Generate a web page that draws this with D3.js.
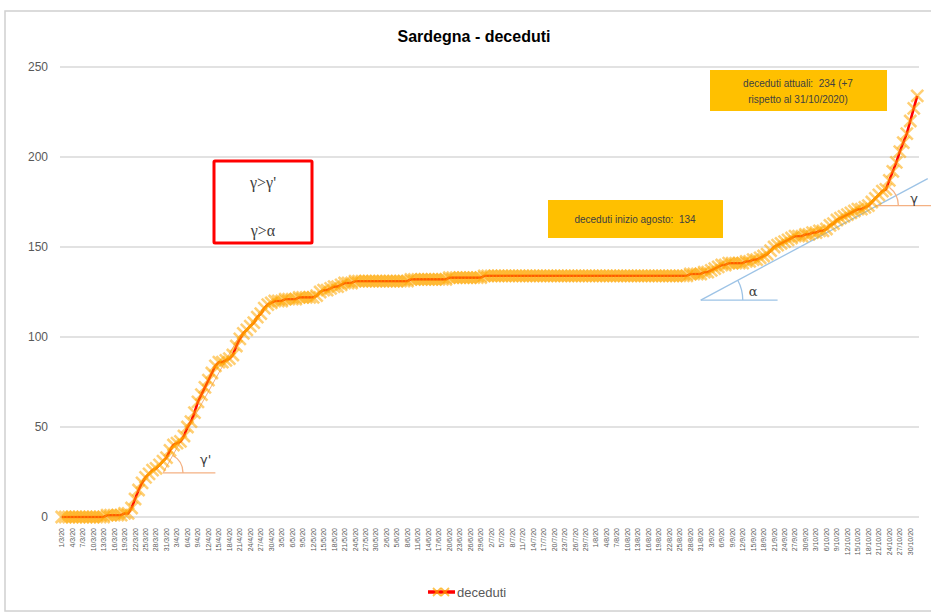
<!DOCTYPE html>
<html><head><meta charset="utf-8">
<script src="https://cdn.jsdelivr.net/npm/d3@7"></script>
<style>body{margin:0;background:#fff}svg{display:block}</style>
</head><body>
<svg id="c" width="931" height="615"></svg>
<script>
const title = "Sardegna - deceduti";
const seriesName = "deceduti";
const startDate = "2020-03-01";
const deceduti = [
 0,0,0,0,0,0,0,0,0,0,0,0,0,1,1,1,1,1,2,2,5,10,15,19,22,24,26,27,29,31,33,
 37,40,41,42,45,50,53,58,64,68,72,76,80,84,86,86,87,88,90,95,99,102,104,106,108,111,113,116,118,119,
 120,120,120,121,121,121,121,122,122,122,122,122,123,125,126,126,127,128,128,129,130,130,130,131,131,131,131,131,131,131,131,
 131,131,131,131,131,131,131,131,132,132,132,132,132,132,132,132,132,132,132,133,133,133,133,133,133,133,133,133,133,134,
 134,134,134,134,134,134,134,134,134,134,134,134,134,134,134,134,134,134,134,134,134,134,134,134,134,134,134,134,134,134,134,
 134,134,134,134,134,134,134,134,134,134,134,134,134,134,134,134,134,134,134,134,134,134,134,134,134,134,134,135,135,135,135,
 136,136,137,138,139,140,140,141,141,141,141,141,142,142,143,143,144,145,146,148,150,151,152,153,154,155,156,156,156,157,
 157,158,158,159,159,160,162,163,165,166,167,168,169,170,171,171,172,173,175,177,179,181,182,187,192,197,203,208,213,220,227,
 234
];
const yTicks = [0,50,100,150,200,250];
const tickLabels = ["1/3/20","4/3/20","7/3/20","10/3/20","13/3/20","16/3/20","19/3/20","22/3/20","25/3/20","28/3/20","31/3/20",
 "3/4/20","6/4/20","9/4/20","12/4/20","15/4/20","18/4/20","21/4/20","24/4/20","27/4/20","30/4/20",
 "3/5/20","6/5/20","9/5/20","12/5/20","15/5/20","18/5/20","21/5/20","24/5/20","27/5/20","30/5/20",
 "2/6/20","5/6/20","8/6/20","11/6/20","14/6/20","17/6/20","20/6/20","23/6/20","26/6/20","29/6/20",
 "2/7/20","5/7/20","8/7/20","11/7/20","14/7/20","17/7/20","20/7/20","23/7/20","26/7/20","29/7/20",
 "1/8/20","4/8/20","7/8/20","10/8/20","13/8/20","16/8/20","19/8/20","22/8/20","25/8/20","28/8/20","31/8/20",
 "3/9/20","6/9/20","9/9/20","12/9/20","15/9/20","18/9/20","21/9/20","24/9/20","27/9/20","30/9/20",
 "3/10/20","6/10/20","9/10/20","12/10/20","15/10/20","18/10/20","21/10/20","24/10/20","27/10/20","30/10/20"];
const noteAgosto = "deceduti inizio agosto:  134";
const noteAttuali = ["deceduti attuali:  234 (+7", "rispetto al 31/10/2020)"];
const boxLines = ["γ>γ'", "γ>α"];
// annotation anchors in data space [day index, value]
const alphaOrigin = [183, 120.5], alphaEnd = [248, 188], alphaBaseEnd = [205, 120.5];
const gammaOrigin = [233, 173], gammaBaseEnd = [250, 173], gammaAngle = 52;
const gpOrigin = [29, 24.5], gpBaseEnd = [44, 24.5], gpTangentEnd = [51, 101], gpAngle = 62;

const fmt = d3.timeFormat("%-d/%-m/%y");
const t0 = d3.timeParse("%Y-%m-%d")(startDate);
const categories = deceduti.map((_, i) => fmt(d3.timeDay.offset(t0, i)));

const svg = d3.select("#c");
svg.append("rect").attr("x",5).attr("y",11).attr("width",940).attr("height",600)
  .attr("fill","#fff").attr("stroke","#d0d0d0").attr("stroke-width",1.5);

const x = d3.scaleBand().domain(categories).range([60, 919]).padding(0);
const y = d3.scaleLinear().domain([0,250]).range([517,67]);
const px = i => x.range()[0] + (i + 0.5) * x.step();

svg.append("g").selectAll("line").data(yTicks).join("line")
  .attr("x1",60).attr("x2",919).attr("y1",d=>y(d)).attr("y2",d=>y(d))
  .attr("stroke","#d9d9d9").attr("stroke-width",1.5);

const ya = svg.append("g").attr("transform","translate(48,0)")
  .call(d3.axisLeft(y).tickValues(yTicks).tickSize(0).tickPadding(0));
ya.select(".domain").remove();
ya.selectAll("text").attr("font-family","Liberation Sans, Arial, sans-serif")
  .attr("font-size",12).attr("fill","#595959");

const xa = svg.append("g").attr("transform","translate(0,526)")
  .call(d3.axisBottom(x).tickValues(tickLabels).tickSize(0).tickPadding(0));
xa.select(".domain").remove();
xa.selectAll("text").attr("font-family","Liberation Sans, Arial, sans-serif")
  .attr("font-size",7).attr("fill","#595959")
  .attr("transform","rotate(-90)").attr("text-anchor","end")
  .attr("x",0).attr("y",0).attr("dx",-2).attr("dy","0.35em");

svg.append("text").attr("x",474).attr("y",42).attr("text-anchor","middle")
  .attr("font-family","Liberation Sans, Arial, sans-serif").attr("font-weight","bold")
  .attr("font-size",16).attr("fill","#000").text(title);

const ann = svg.append("g");
ann.append("line").attr("x1",px(alphaOrigin[0])).attr("y1",y(alphaOrigin[1]))
  .attr("x2",px(alphaEnd[0])).attr("y2",y(alphaEnd[1])).attr("stroke","#9dc3e6").attr("stroke-width",1.3);
ann.append("line").attr("x1",px(alphaOrigin[0])).attr("y1",y(alphaOrigin[1]))
  .attr("x2",px(alphaBaseEnd[0])).attr("y2",y(alphaOrigin[1])).attr("stroke","#9dc3e6").attr("stroke-width",1.3);
function arcPath(cx, cy, r, degEnd){
  const p = d3.path(); const a = -degEnd*Math.PI/180;
  p.arc(cx, cy, r, 0, a, true); return p.toString();
}
{
  const ax = px(alphaOrigin[0]), ay = y(alphaOrigin[1]);
  const ang = Math.atan2(ay - y(alphaEnd[1]), px(alphaEnd[0]) - ax)*180/Math.PI;
  ann.append("path").attr("d", arcPath(ax, ay, 42, ang)).attr("fill","none").attr("stroke","#9dc3e6").attr("stroke-width",1.3);
  ann.append("text").attr("x",ax+48).attr("y",ay-4).attr("font-family","DejaVu Serif, serif").attr("font-size",13)
    .attr("fill","#404040").text("α");
}
{
  const gx = px(gammaOrigin[0]), gy = y(gammaOrigin[1]);
  ann.append("line").attr("x1",gx).attr("y1",gy).attr("x2",px(gammaBaseEnd[0])).attr("y2",gy)
    .attr("stroke","#f4b183").attr("stroke-width",1.3);
  ann.append("path").attr("d", arcPath(gx, gy, 23, gammaAngle)).attr("fill","none").attr("stroke","#f4b183").attr("stroke-width",1.3);
  ann.append("text").attr("x",gx+35).attr("y",gy-3).attr("font-family","DejaVu Sans, sans-serif").attr("font-size",13)
    .attr("fill","#404040").text("γ");
}
{
  const gx = px(gpOrigin[0]), gy = y(gpOrigin[1]);
  ann.append("line").attr("x1",gx).attr("y1",gy).attr("x2",px(gpBaseEnd[0])).attr("y2",gy)
    .attr("stroke","#f4b183").attr("stroke-width",1.3);
  ann.append("line").attr("x1",gx).attr("y1",gy).attr("x2",px(gpTangentEnd[0])).attr("y2",y(gpTangentEnd[1]))
    .attr("stroke","#f4b183").attr("stroke-width",1);
  ann.append("path").attr("d", arcPath(gx, gy, 20, gpAngle)).attr("fill","none").attr("stroke","#f4b183").attr("stroke-width",1.3);
  ann.append("text").attr("x",gx+37).attr("y",gy-9).attr("font-family","DejaVu Sans, sans-serif").attr("font-size",13)
    .attr("fill","#404040").text("γ'");
}

const line = d3.line().x((d,i)=>px(i)).y(d=>y(d));
svg.append("path").datum(deceduti).attr("d",line).attr("fill","none")
  .attr("stroke","#ff0000").attr("stroke-width",2.6);
const ms = 6;
svg.append("g").selectAll("path").data(deceduti).join("path")
  .attr("d",(d,i)=>{const cx=px(i), cy=y(d); return `M${cx-ms},${cy-ms}L${cx+ms},${cy+ms}M${cx-ms},${cy+ms}L${cx+ms},${cy-ms}`;})
  .attr("stroke","#ffa800").attr("stroke-opacity",0.55).attr("stroke-width",2.6).attr("fill","none");

svg.append("rect").attr("x",214).attr("y",161).attr("width",98).attr("height",82)
  .attr("fill","#fff").attr("stroke","#ff0000").attr("stroke-width",3).attr("rx",1);
svg.append("g").selectAll("text").data(boxLines).join("text")
  .attr("x",263).attr("y",(d,i)=>188+i*48).attr("text-anchor","middle")
  .attr("font-family","Liberation Serif, Times New Roman, serif").attr("font-size",16).attr("fill","#404040").text(d=>d);

svg.append("rect").attr("x",548).attr("y",200).attr("width",175).attr("height",38).attr("fill","#ffc000");
svg.append("text").attr("x",635).attr("y",223).attr("text-anchor","middle")
  .attr("font-family","Liberation Sans, Arial, sans-serif").attr("font-size",10).attr("fill","#404040")
  .attr("xml:space","preserve").text(noteAgosto);
svg.append("rect").attr("x",710).attr("y",70).attr("width",177).attr("height",41).attr("fill","#ffc000");
svg.append("g").selectAll("text").data(noteAttuali).join("text")
  .attr("x",798).attr("y",(d,i)=>87+i*16).attr("text-anchor","middle")
  .attr("font-family","Liberation Sans, Arial, sans-serif").attr("font-size",10).attr("fill","#404040")
  .attr("xml:space","preserve").text(d=>d);

const lg = svg.append("g");
lg.append("line").attr("x1",428).attr("x2",455).attr("y1",592).attr("y2",592).attr("stroke","#ff0000").attr("stroke-width",3.5);
[437,445].forEach(cx=>{
  lg.append("path").attr("d",`M${cx-4},${588}L${cx+4},${596}M${cx-4},${596}L${cx+4},${588}`)
    .attr("stroke","#ffa800").attr("stroke-opacity",0.7).attr("stroke-width",1.8);
});
lg.append("text").attr("x",457).attr("y",597).attr("font-family","Liberation Sans, Arial, sans-serif")
  .attr("font-size",13).attr("fill","#595959").text(seriesName);
</script>
</body></html>
